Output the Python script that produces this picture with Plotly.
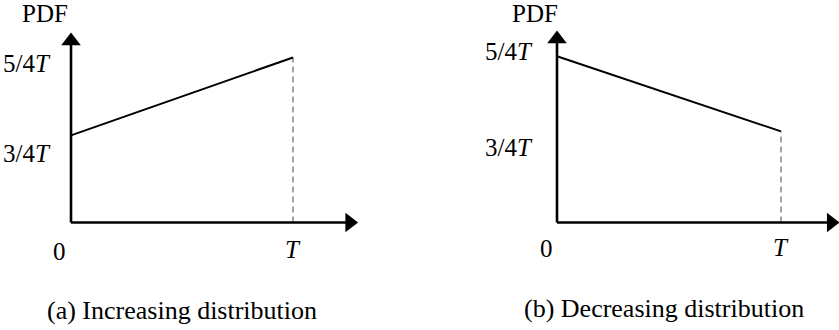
import plotly.graph_objects as go

# ---- data ----
x_points = [0, 1]                      # 0 and T
pdf_increasing = [0.66, 1.25]          # PDF at 0 and T, panel (a)
pdf_decreasing = [1.26, 0.69]          # PDF at 0 and T, panel (b)
x_tick_labels = ["0", "<i>T</i>"]
y_tick_labels = ["5/4<i>T</i>", "3/4<i>T</i>"]
y_axis_title = "PDF"
captions = ["(a) Increasing distribution", "(b) Decreasing distribution"]

# ---- layout config (positions / styles) ----
W, H = 839, 330
FONT = "Times New Roman, Liberation Serif, Times, serif"
FS = 25
panels = [
    dict(xa="x", xr=[-0.3198, 1.572], dom=[0, 420 / W], ytick=[1.205, 0.523],
         yshift=-18, xend=1.255, yend=1.375, pdfx=-0.117, capx=0.5, capy=-0.670,
         x0lab=-0.05, xlaby=[-0.219, -0.201], y=pdf_increasing),
    dict(xa="x2", xr=[-0.6116, 1.2589], dom=[420 / W, 1], ytick=[1.292, 0.572],
         yshift=-22, xend=1.224, yend=1.390, pdfx=-0.098, capx=0.478, capy=-0.655,
         x0lab=-0.045, xlaby=[-0.196, -0.190], y=pdf_decreasing),
]
yr = [-0.8144, 1.6856]

fig = go.Figure()
ann = []
for i, p in enumerate(panels):
    xa = p["xa"]
    # dashed guide at T
    fig.add_trace(go.Scatter(x=[x_points[1], x_points[1]], y=[0, p["y"][1]], mode="lines",
                             line=dict(color="#9a9a9a", width=1.8, dash="6px,4px"),
                             xaxis=xa, yaxis="y", showlegend=False, hoverinfo="skip"))
    # axes lines
    fig.add_trace(go.Scatter(x=[0, 0], y=[0, p["yend"]], mode="lines",
                             line=dict(color="black", width=2.6),
                             xaxis=xa, yaxis="y", showlegend=False, hoverinfo="skip"))
    fig.add_trace(go.Scatter(x=[0, p["xend"]], y=[0, 0], mode="lines",
                             line=dict(color="black", width=2.6),
                             xaxis=xa, yaxis="y", showlegend=False, hoverinfo="skip"))
    # arrowheads
    fig.add_trace(go.Scatter(x=[0], y=[p["yend"]], mode="markers",
                             marker=dict(symbol="triangle-up", size=17, color="black",
                                         line=dict(width=0)),
                             xaxis=xa, yaxis="y", showlegend=False, hoverinfo="skip",
                             cliponaxis=False))
    fig.add_trace(go.Scatter(x=[p["xend"]], y=[0], mode="markers",
                             marker=dict(symbol="triangle-right", size=17, color="black",
                                         line=dict(width=0)),
                             xaxis=xa, yaxis="y", showlegend=False, hoverinfo="skip",
                             cliponaxis=False))
    # PDF line
    fig.add_trace(go.Scatter(x=x_points, y=p["y"], mode="lines",
                             line=dict(color="black", width=2),
                             xaxis=xa, yaxis="y", showlegend=False))

    f = dict(family=FONT, size=FS, color="black")
    for lab, yv in zip(y_tick_labels, p["ytick"]):
        ann.append(dict(x=0, y=yv, xref=xa, yref="y", text=lab, showarrow=False,
                        xanchor="right", yanchor="middle", xshift=p["yshift"], font=f))
    ann.append(dict(x=p["x0lab"], y=p["xlaby"][0], xref=xa, yref="y", text=x_tick_labels[0],
                    showarrow=False, xanchor="center", yanchor="middle", font=f))
    ann.append(dict(x=x_points[1], y=p["xlaby"][1], xref=xa, yref="y", text=x_tick_labels[1],
                    showarrow=False, xanchor="center", yanchor="middle", font=f))
    ann.append(dict(x=p["pdfx"], y=1.583, xref=xa, yref="y", text=y_axis_title,
                    showarrow=False, xanchor="center", yanchor="middle",
                    font=dict(family=FONT, size=25, color="black")))
    ann.append(dict(x=p["capx"], y=p["capy"], xref=xa, yref="y", text=captions[i],
                    showarrow=False, xanchor="center", yanchor="middle",
                    font=dict(family=FONT, size=26, color="black")))

ax_common = dict(visible=False, showgrid=False, zeroline=False, fixedrange=True)
fig.update_layout(
    width=W, height=H,
    margin=dict(l=0, r=0, t=0, b=0),
    paper_bgcolor="white", plot_bgcolor="white",
    font=dict(family=FONT),
    xaxis=dict(domain=panels[0]["dom"], range=panels[0]["xr"], anchor="y", **ax_common),
    xaxis2=dict(domain=panels[1]["dom"], range=panels[1]["xr"], anchor="y", **ax_common),
    yaxis=dict(domain=[0, 1], range=yr, **ax_common),
    annotations=ann,
)

fig.write_html("out.html")
